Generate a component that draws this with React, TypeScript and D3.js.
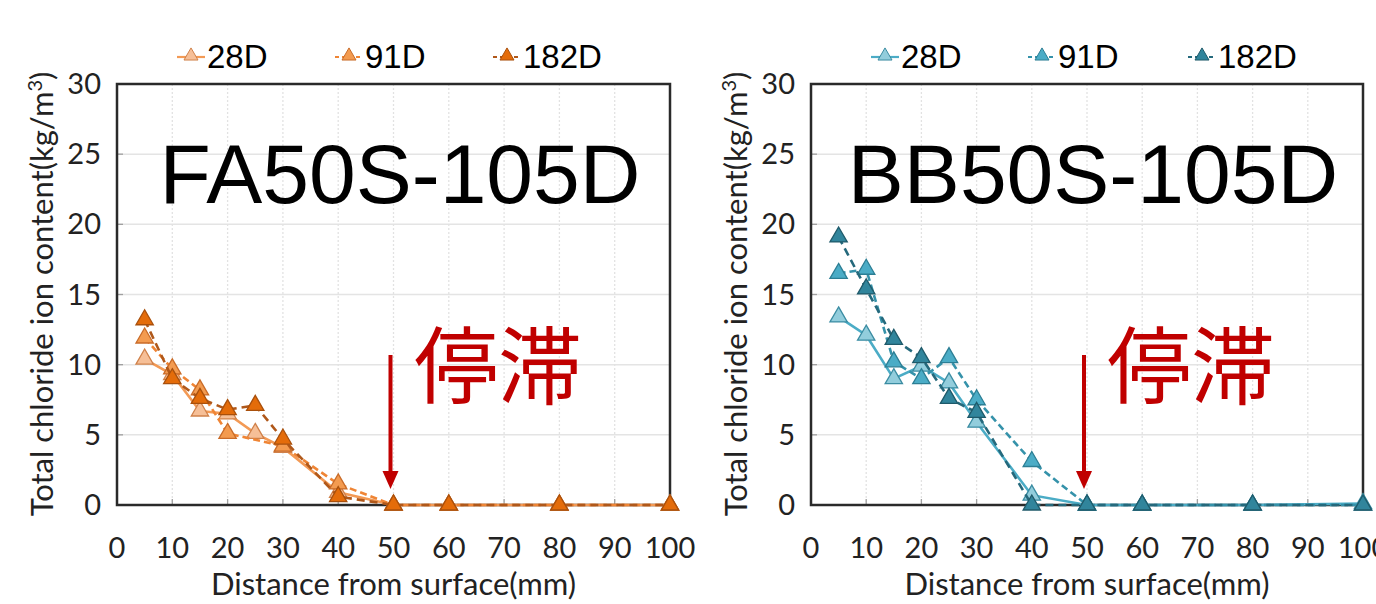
import React from "react";
import * as d3 from "d3";

// ---- data ----
const xTicks = [0, 10, 20, 30, 40, 50, 60, 70, 80, 90, 100];
const yTicks = [0, 5, 10, 15, 20, 25, 30];
const seriesNames = ["28D", "91D", "182D"];

const faDepth28 = [5, 10, 15, 20, 25, 30, 40, 50, 60, 80, 100];
const fa28 = [10.4, 9.3, 6.7, 6.5, 5.1, 4.1, 0.9, 0, 0, 0, 0];
const faDepth91 = [5, 10, 15, 20, 30, 40, 50, 60, 80, 100];
const fa91 = [11.9, 9.7, 8.2, 5.1, 4.2, 1.5, 0, 0, 0, 0];
const faDepth182 = [5, 10, 15, 20, 25, 30, 40, 50, 60, 80, 100];
const fa182 = [13.2, 9.0, 7.6, 6.8, 7.1, 4.7, 0.6, 0, 0, 0, 0];

const bbDepth = [5, 10, 15, 20, 25, 30, 40, 50, 60, 80, 100];
const bb28 = [13.4, 12.1, 9.0, 9.9, 8.7, 5.9, 0.7, 0, 0, 0, 0.1];
const bb91 = [16.5, 16.8, 10.2, 9.0, 10.5, 7.5, 3.1, 0, 0, 0, 0];
const bb182 = [19.1, 15.4, 11.8, 10.5, 7.6, 6.6, 0, 0, 0, 0, 0];

type Series = {
  name: string;
  xs: number[];
  ys: number[];
  fill: string;
  stroke: string;
  line: string;
  dash: string | undefined;
};

const faSeries: Series[] = [
  { name: seriesNames[0], xs: faDepth28, ys: fa28, fill: "#F6BF97", stroke: "#D0814A", line: "#F39A55", dash: undefined },
  { name: seriesNames[1], xs: faDepth91, ys: fa91, fill: "#F39B50", stroke: "#C96B28", line: "#EF8535", dash: "7,4" },
  { name: seriesNames[2], xs: faDepth182, ys: fa182, fill: "#E46C0A", stroke: "#A9500C", line: "#B0581A", dash: "8,5" },
];

const bbSeries: Series[] = [
  { name: seriesNames[0], xs: bbDepth, ys: bb28, fill: "#92CDDC", stroke: "#3A8CA2", line: "#4BACC6", dash: undefined },
  { name: seriesNames[1], xs: bbDepth, ys: bb91, fill: "#4BACC6", stroke: "#2C7E94", line: "#3592AA", dash: "7,4" },
  { name: seriesNames[2], xs: bbDepth, ys: bb182, fill: "#31859C", stroke: "#1F5A6A", line: "#25697C", dash: "8,5" },
];

const tickFont = "Lato, 'Open Sans', sans-serif";
const latinFont = "'Liberation Sans', Arial, sans-serif";
const cjkFont = "'Noto Sans CJK JP', 'Noto Sans CJK SC', sans-serif";

const tri = d3.symbol().type(d3.symbolTriangle).size(130);
const triSmall = d3.symbol().type(d3.symbolTriangle).size(85);

type PanelProps = {
  left: number;
  right: number;
  series: Series[];
  title: string;
  legendX: number[];
  titleX: number;
  noteX: number;
  yTitleX: number;
};

function Panel({ left, right, series, title, legendX, titleX, noteX, yTitleX }: PanelProps) {
  const top = 84;
  const bottom = 505;
  const x = d3.scaleLinear().domain([0, 100]).range([left, right]);
  const y = d3.scaleLinear().domain([0, 30]).range([bottom, top]);
  const line = d3
    .line<[number, number]>()
    .x((d) => x(d[0]))
    .y((d) => y(d[1]));

  const arrowX = x(50) - 3;
  const arrowTop = 355;
  const arrowTip = 489;

  return (
    <g>
      {/* grid */}
      {yTicks.slice(1, -1).map((t) => (
        <line key={"gy" + t} x1={left} x2={right} y1={y(t)} y2={y(t)} stroke="#E4E4E4" strokeWidth={1.5} />
      ))}
      {xTicks.slice(1, -1).map((t) => (
        <line key={"gx" + t} x1={x(t)} x2={x(t)} y1={top} y2={bottom} stroke="#E2E2E2" strokeWidth={1.3} strokeDasharray="2,2" />
      ))}
      {/* tick marks */}
      {xTicks.slice(1, -1).map((t) => (
        <line key={"tx" + t} x1={x(t)} x2={x(t)} y1={bottom} y2={bottom - 6} stroke="#A0A0A0" strokeWidth={1.3} />
      ))}
      {yTicks.slice(1, -1).map((t) => (
        <line key={"ty" + t} x1={left} x2={left + 6} y1={y(t)} y2={y(t)} stroke="#A0A0A0" strokeWidth={1.3} />
      ))}
      {/* frame */}
      <rect x={left} y={top} width={right - left} height={bottom - top} fill="none" stroke="#2A2A2A" strokeWidth={2.5} />

      {/* tick labels */}
      {xTicks.map((t) => (
        <text key={"lx" + t} x={x(t)} y={558} textAnchor="middle" fontFamily={tickFont} fontSize={29} fill="#222">
          {t}
        </text>
      ))}
      {yTicks.map((t) => (
        <text key={"ly" + t} x={left - 16} y={y(t) + 10} textAnchor="end" fontFamily={tickFont} fontSize={29} fill="#222">
          {t}
        </text>
      ))}

      {/* axis titles */}
      <text x={(left + right) / 2} y={595} textAnchor="middle" fontFamily={tickFont} fontSize={31} fill="#222">
        Distance from surface(mm)
      </text>
      <text
        transform={`translate(${yTitleX},${294}) rotate(-90)`}
        textAnchor="middle"
        fontFamily={tickFont}
        fontSize={31}
        fill="#222"
      >
        Total chloride ion content(kg/m
        <tspan dy={-11} fontSize={20}>3</tspan>
        <tspan dy={11}>)</tspan>
      </text>

      {/* big title */}
      <text x={titleX} y={203} textAnchor="middle" fontFamily={latinFont} fontSize={84} fill="#000">
        {title}
      </text>

      {/* series */}
      {series.map((s) => {
        const pts = s.xs.map((v, i) => [v, s.ys[i]] as [number, number]);
        return (
          <g key={s.name}>
            <path d={line(pts) || ""} fill="none" stroke={s.line} strokeWidth={2.6} strokeDasharray={s.dash} />
            {pts.map((p, i) => (
              <path
                key={i}
                d={tri() || ""}
                transform={`translate(${x(p[0])},${y(p[1])})`}
                fill={s.fill}
                stroke={s.stroke}
                strokeWidth={1.3}
              />
            ))}
          </g>
        );
      })}

      {/* legend */}
      {series.map((s, i) => (
        <g key={"lg" + s.name}>
          <line x1={legendX[i]} x2={legendX[i] + 28} y1={57} y2={57} stroke={s.line} strokeWidth={2.2} strokeDasharray={s.dash ? "4,3" : undefined} />
          <path d={triSmall() || ""} transform={`translate(${legendX[i] + 14},${56})`} fill={s.fill} stroke={s.stroke} strokeWidth={1} />
          <text x={legendX[i] + 30} y={68} fontFamily={latinFont} fontSize={33} fill="#000">
            {s.name}
          </text>
        </g>
      ))}

      {/* annotation */}
      <line x1={arrowX} x2={arrowX} y1={arrowTop} y2={arrowTip - 16} stroke="#C00000" strokeWidth={4} />
      <path
        d={`M${arrowX - 8},${arrowTip - 18} L${arrowX + 8},${arrowTip - 18} L${arrowX},${arrowTip} Z`}
        fill="#C00000"
      />
      <text x={noteX} y={397} fontFamily={cjkFont} fontSize={84} fill="#C00000">
        停滞
      </text>
    </g>
  );
}

export default function App() {
  return (
    <svg
      width={1376}
      height={604}
      viewBox="0 0 1376 604"
      style={{ position: "absolute", left: 0, top: 0, background: "#fff" }}
    >
      <rect x={0} y={0} width={1376} height={604} fill="#fff" />
      <Panel
        left={117}
        right={670}
        series={faSeries}
        title="FA50S-105D"
        legendX={[177, 335, 493]}
        titleX={400}
        noteX={414}
        yTitleX={53}
      />
      <Panel
        left={811}
        right={1363}
        series={bbSeries}
        title="BB50S-105D"
        legendX={[871, 1028, 1188]}
        titleX={1093}
        noteX={1107}
        yTitleX={747}
      />
    </svg>
  );
}
